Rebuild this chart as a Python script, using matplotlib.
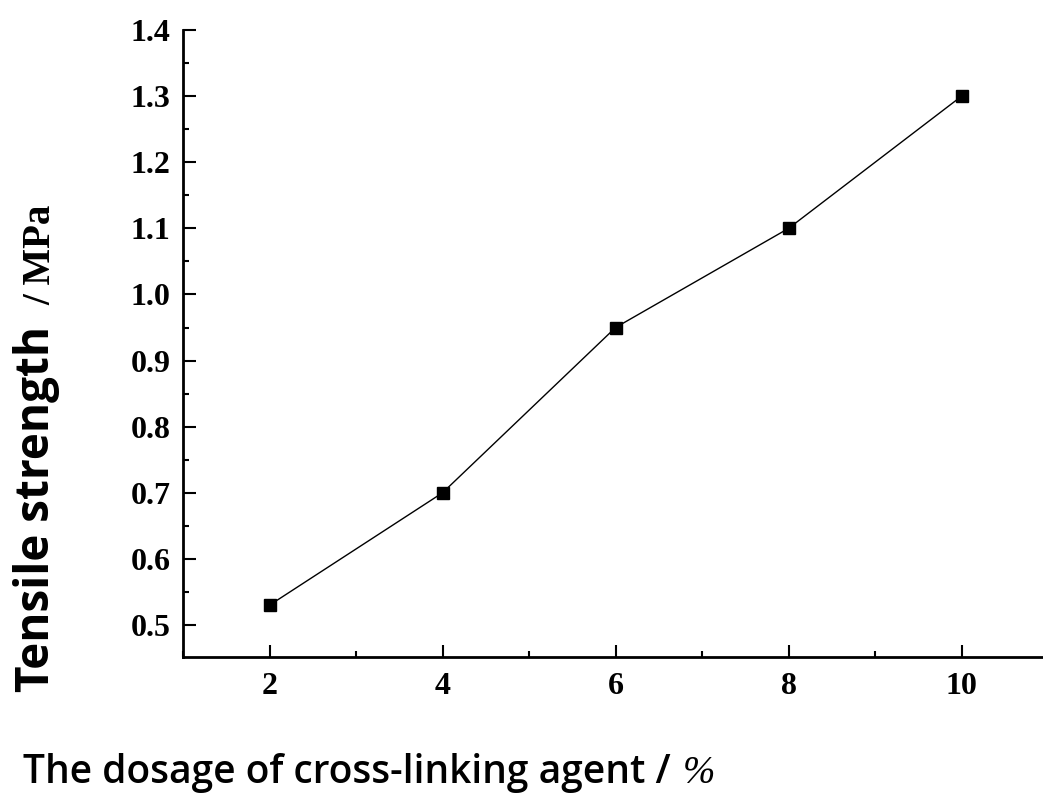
import matplotlib
matplotlib.use("Agg")
import matplotlib.pyplot as plt
from matplotlib.ticker import MultipleLocator

# dados
dosagem = [2, 4, 6, 8, 10]
resistencia = [0.53, 0.70, 0.95, 1.10, 1.30]
y_ticks = [0.5, 0.6, 0.7, 0.8, 0.9, 1.0, 1.1, 1.2, 1.3, 1.4]
x_ticks = [2, 4, 6, 8, 10]

W, H = 1043, 794
fig = plt.figure(figsize=(W / 100, H / 100), dpi=100)
ax = fig.add_axes([183 / W, 137 / H, 1 - 183 / W, (764 - 137) / H])

ax.plot(dosagem, resistencia, color='black', linewidth=1.0,
        marker='s', markersize=8, markeredgewidth=1, clip_on=False)

ax.set_xlim(1, 10.94)
ax.set_ylim(0.4516, 1.4)
ax.set_xticks(x_ticks)
ax.set_yticks(y_ticks)
ax.xaxis.set_minor_locator(MultipleLocator(1))
ax.yaxis.set_minor_locator(MultipleLocator(0.05))

for s in ['top', 'right']:
    ax.spines[s].set_visible(False)
for s in ['left', 'bottom']:
    ax.spines[s].set_linewidth(2)

ax.tick_params(which='major', direction='in', length=9, width=1.5, pad=9)
ax.tick_params(which='minor', direction='in', length=4, width=1.5)
ax.tick_params(axis='x', which='major', pad=11)

for lab in ax.get_xticklabels() + ax.get_yticklabels():
    lab.set_fontfamily('Liberation Serif')
    lab.set_fontweight('bold')
    lab.set_fontsize(23)

# rótulo do eixo y em duas partes (sans + serif)
fig.text(37 / W, (H - 692) / H, 'Tensile strength', rotation=90,
         ha='center', va='bottom', fontsize=33, fontweight='bold',
         family='Open Sans')
fig.text(41 / W, (H - 205) / H, '/ MPa', rotation=90,
         ha='center', va='top', fontsize=28, fontweight='bold',
         family='Liberation Serif')

# rótulo do eixo x
fig.text(23 / W, (H - 783) / H, 'The dosage of cross-linking agent /',
         ha='left', va='baseline', fontsize=28, fontweight='semibold',
         family='Open Sans')
fig.text(715 / W, (H - 783) / H, '%', ha='right', va='baseline',
         fontsize=28, fontstyle='italic', family='Liberation Serif')

fig.savefig('out.png', dpi=100)
